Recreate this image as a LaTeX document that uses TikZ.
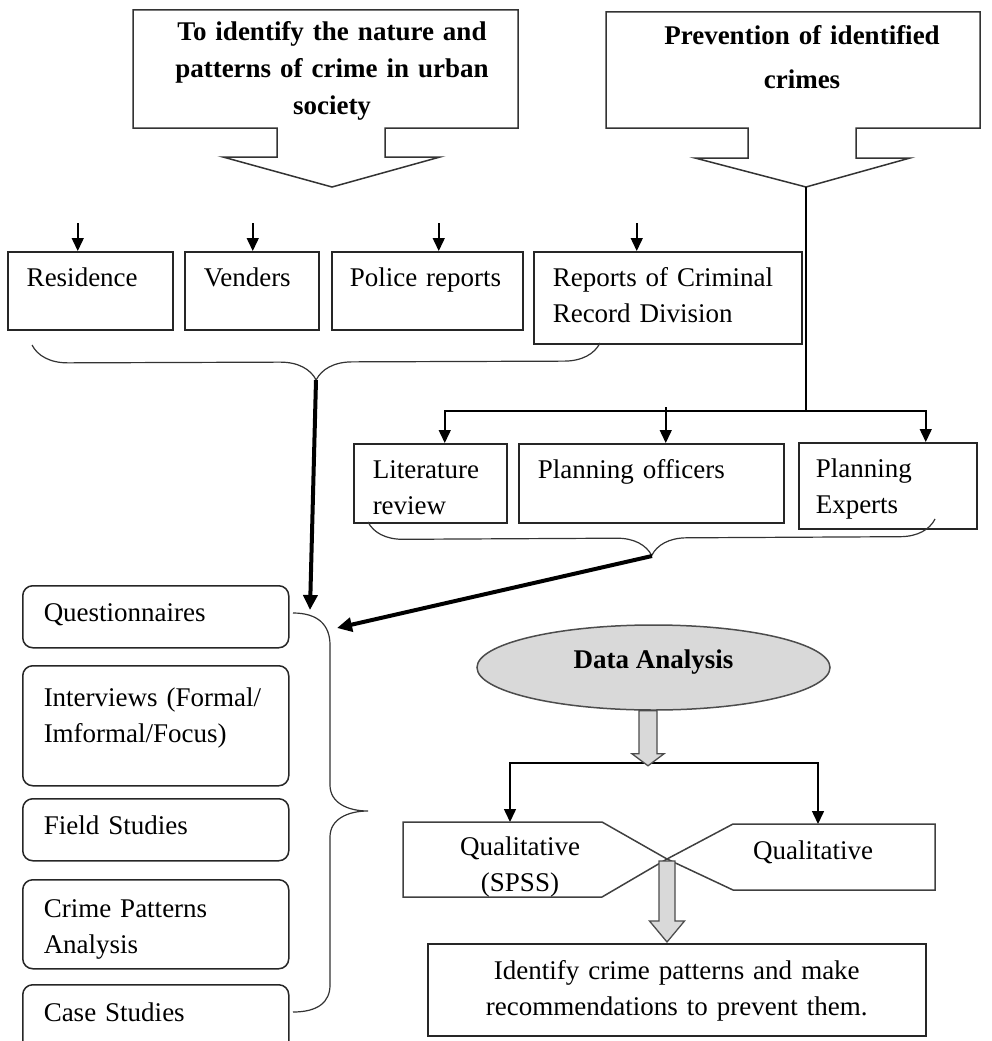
\documentclass[tikz,border=0pt]{standalone}
\usepackage{fontspec}
\setmainfont{Liberation Serif}
\usepackage{tikz}
\usetikzlibrary{arrows.meta,shapes.geometric,decorations.pathreplacing}

\begin{document}
\begin{tikzpicture}[x=1pt,y=-1pt,>={Triangle[length=13pt,width=12pt]},
        line width=1.5pt,font=\fontsize{27}{36}\selectfont]
        \tikzstyle{box}=[draw=black!85, anchor=north west, align=left,
            inner xsep=19pt, inner ysep=0pt, text height=35pt]
        \tikzstyle{roundbox}=[box, rounded corners=10pt, inner xsep=21pt, text width=224pt]
        \tikzstyle{callout}=[draw=black!80, fill=white]
        \tikzstyle{calltext}=[anchor=base, align=center,
            font=\fontsize{27}{37}\selectfont\bfseries]
        \tikzstyle{curly}=[draw=black!80, line width=1.2pt, decorate,
            decoration={brace,amplitude=36pt}]
        \tikzstyle{bigarrow}=[line width=4pt, -{Triangle[length=15pt,width=14pt]}]
        \tikzstyle{hollow}=[draw=black!70, fill=gray!30, line width=1.3pt, line join=miter]

        \useasboundingbox (0,0) rectangle (991,1041);
        \clip (0,0) rectangle (991,1041);

        % objectives
        \coordinate (idtip) at (332,187);
        \coordinate (prtip) at (806,187);
        \draw[callout] (133,10) -- (518,10) -- (518,128) -- (385,128) -- (385,157)
            -- (440,157) -- (idtip) -- (223,157) -- (277,157) -- (277,128) -- (133,128) -- cycle;
        \draw[callout] (606,12) -- (980,12) -- (980,128) -- (856,128) -- (856,158)
            -- (910,158) -- (prtip) -- (695,158) -- (748,158) -- (748,128) -- (606,128) -- cycle;
        \node[calltext, text width=370pt] (idtext) at (332,41)
            {To identify the nature and\\patterns of crime in urban\\society};
        \node[calltext, text width=340pt] (prtext) at (802,45)
            {Prevention of identified\\[7pt]crimes};

        % data sources
        \node[box, text width=127pt, text depth=43pt] (res) at (7,251) {Residence};
        \node[box, text width=96pt, text depth=43pt]  (ven) at (184,251) {Venders};
        \node[box, inner xsep=18pt, text width=155pt, text depth=43pt] (pol) at (331,251) {Police reports};
        \node[box, text width=230pt, text depth=57pt] (crd) at (533,251) {Reports of Criminal\\Record Division};

        \draw[<-] ([xshift=-12.5pt]res.north) -- ++(0,-28);
        \draw[<-] ([xshift=1pt]ven.north) -- ++(0,-28);
        \draw[<-] ([xshift=11.5pt]pol.north) -- ++(0,-28);
        \draw[<-] ([xshift=-31pt]crd.north) -- ++(0,-28);

        \draw[curly] (600,343) -- (32,345);
        \coordinate (b1tip) at (316,380);

        % prevention sources
        \coordinate (prbar) at (806,411);
        \node[box, text width=115pt, text depth=44pt] (lit) at (353,443) {Literature\\review};
        \node[box, text width=227pt, text depth=44pt] (off) at (518,443) {Planning officers};
        \node[box, inner xsep=17pt, text width=144pt, text depth=51pt] (exp) at (798,442) {Planning\\Experts};

        \draw (prtip) -- (prbar);
        \draw[->] (prbar) -| ([xshift=14.5pt]lit.north);
        \draw[->] (prbar) -| ([xshift=38pt]exp.north);
        \draw[<-] ([xshift=14.5pt]off.north) -- ++(0,-36);

        \draw[curly, decoration={brace,amplitude=35pt}] (935,519) -- (368,522);
        \coordinate (b2tip) at (652,556);

        % methods
        \node[roundbox, text height=36pt, text depth=26pt] (quest) at (22,585) {Questionnaires};
        \node[roundbox, text height=41pt, text depth=79pt] (intv) at (22,665) {Interviews (Formal/\\Imformal/Focus)};
        \node[roundbox, text height=36pt, text depth=26pt] (field) at (22,798) {Field Studies};
        \node[roundbox, text height=38pt, text depth=51pt] (cpat) at (22,879) {Crime Patterns\\Analysis};
        \node[roundbox, text height=37pt, text depth=60pt] (cstud) at (22,984) {Case Studies};

        \draw[draw=black!80, line width=1.2pt] (293,613) .. controls (318,613) and (330,625) .. (330,645)
            -- (330,785) .. controls (330,803) and (348,811) .. (368,811)
            .. controls (348,811) and (330,819) .. (330,837)
            -- (330,985) .. controls (330,1002) and (318,1012) .. (293,1012);

        \coordinate (b3top) at (310,610);
        \coordinate (b3in) at (337,628);
        \draw[bigarrow] (b1tip) -- (b3top);
        \draw[bigarrow] (b2tip) -- (b3in);

        % analysis
        \node[ellipse, draw=black!70, fill=gray!30, minimum width=353pt, minimum height=85pt,
            inner sep=0pt, font=\fontsize{27}{36}\selectfont\bfseries, text depth=16pt]
            (da) at (653.5,667.5) {Data Analysis};

        \coordinate (dabar) at (648,763);
        \coordinate (qlLin) at (510,822);
        \coordinate (qlRin) at (818,824);
        \draw[->] (dabar) -| (qlLin);
        \draw[->] (dabar) -| (qlRin);
        \draw[hollow] ([xshift=-14.5pt]da.south) -- ++(0,43) -- ++(-7,0) -- ++(16,12)
            -- ++(16,-12) -- ++(-7,0) -- ++(0,-43) -- cycle;

        \coordinate (xpt) at (667,859);
        \draw[draw=black!75] (403,822) -- (602,822) -- (xpt) -- (602,897) -- (403,897) -- cycle;
        \draw[draw=black!75] (935,824) -- (733,824) -- (xpt) -- (733,890) -- (935,890) -- cycle;
        \node[anchor=base, align=center, text width=160pt] (qlL) at (520,855) {Qualitative\\(SPSS)};
        \node[anchor=base] (qlR) at (813,859) {Qualitative};

        \node[box, align=center, text width=460pt, text height=36pt, text depth=56pt]
            (rec) at (427,943) {Identify crime patterns and make\\recommendations to prevent them.};
        \draw[hollow] ([xshift=-8pt,yshift=-2pt]xpt) -- ++(0,60) -- ++(-9.5,0) -- ++(17.5,21)
            -- ++(17.5,-21) -- ++(-9.5,0) -- ++(0,-60) -- cycle;
    \end{tikzpicture}
\end{document}
